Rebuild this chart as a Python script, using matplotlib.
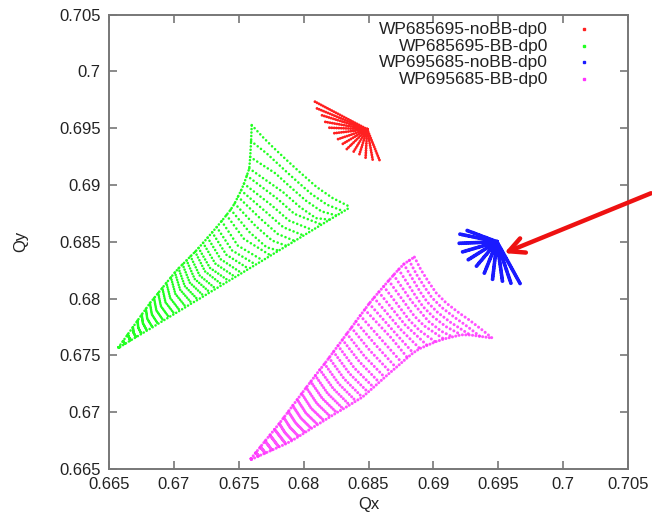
import matplotlib
matplotlib.use("Agg")
import matplotlib.pyplot as plt
import numpy as np

plt.rcParams['font.family'] = ['Liberation Sans', 'DejaVu Sans']

# ---- axis ticks -------------------------------------------------------
qx_ticks = [0.665, 0.67, 0.675, 0.68, 0.685, 0.69, 0.695, 0.7, 0.705]
qx_labels = ["0.665", "0.67", "0.675", "0.68", "0.685", "0.69", "0.695", "0.7", "0.705"]
qy_ticks = [0.665, 0.67, 0.675, 0.68, 0.685, 0.69, 0.695, 0.7, 0.705]
qy_labels = ["0.665", "0.67", "0.675", "0.68", "0.685", "0.69", "0.695", "0.7", "0.705"]

series_names = ["WP685695-noBB-dp0", "WP685695-BB-dp0",
                "WP695685-noBB-dp0", "WP695685-BB-dp0"]
series_colors = ["#ff2020", "#22ff22", "#1a1aff", "#ff33ff"]

# ---- WP685695 without beam-beam: spokes from the bare tune -------------
red_origin = (0.6849, 0.6949)
red_end_qx = [0.68077, 0.68102, 0.68136, 0.68162, 0.68195, 0.68225, 0.68259,
              0.68295, 0.68333, 0.68379, 0.68425, 0.68477, 0.68533, 0.68590]
red_end_qy = [0.69739, 0.69674, 0.69615, 0.69556, 0.69504, 0.69454, 0.69401,
              0.69357, 0.69316, 0.69281, 0.69252, 0.69231, 0.69217, 0.69204]

# ---- WP695685 without beam-beam ----------------------------------------
blue_origin = (0.6949, 0.6850)
blue_end_qx = [0.69251, 0.69200, 0.69187, 0.69213, 0.69264, 0.69328,
               0.69392, 0.69456, 0.69533, 0.69598, 0.69675]
blue_end_qy = [0.68603, 0.68568, 0.68486, 0.68407, 0.68339, 0.68280,
               0.68222, 0.68169, 0.68148, 0.68134, 0.68119]

# ---- WP685695 with beam-beam: constant-amplitude rings ------------------
green_ring_qx = [
    [0.66573, 0.66585],
    [0.66608, 0.66623],
    [0.66644, 0.66665],
    [0.66684, 0.66688, 0.66708],
    [0.66720, 0.66725, 0.66750],
    [0.66752, 0.66761, 0.66792],
    [0.66784, 0.66795, 0.66835],
    [0.66815, 0.66830, 0.66877],
    [0.66847, 0.66865, 0.66919],
    [0.66879, 0.66900, 0.66962],
    [0.66911, 0.66935, 0.67004],
    [0.66942, 0.66972, 0.67046],
    [0.66977, 0.67011, 0.67092],
    [0.67008, 0.67048, 0.67138],
    [0.67036, 0.67084, 0.67185],
    [0.67067, 0.67122, 0.67231],
    [0.67098, 0.67160, 0.67277],
    [0.67128, 0.67198, 0.67323],
    [0.67164, 0.67240, 0.67373],
    [0.67190, 0.67278, 0.67423],
    [0.67225, 0.67319, 0.67473],
    [0.67260, 0.67361, 0.67523],
    [0.67295, 0.67404, 0.67577],
    [0.67330, 0.67448, 0.67631],
    [0.67368, 0.67492, 0.67685],
    [0.67405, 0.67541, 0.67746],
    [0.67438, 0.67584, 0.67715, 0.67808],
    [0.67468, 0.67627, 0.67758, 0.67869],
    [0.67494, 0.67669, 0.67800, 0.67931],
    [0.67518, 0.67712, 0.67843, 0.68000],
    [0.67540, 0.67755, 0.67886, 0.68069],
    [0.67562, 0.67798, 0.67928, 0.68138],
    [0.67581, 0.67841, 0.67972, 0.68095, 0.68200],
    [0.67588, 0.67784, 0.67884, 0.68015, 0.68138, 0.68254],
    [0.67595, 0.67718, 0.67826, 0.67926, 0.68057, 0.68180, 0.68308],
    [0.67600, 0.67685, 0.67762, 0.67869, 0.67969, 0.68100, 0.68223, 0.68361],
]
green_ring_qy = [
    [0.67570, 0.67575],
    [0.67626, 0.67601],
    [0.67684, 0.67631],
    [0.67748, 0.67702, 0.67660],
    [0.67807, 0.67745, 0.67689],
    [0.67859, 0.67784, 0.67718],
    [0.67909, 0.67822, 0.67747],
    [0.67960, 0.67862, 0.67777],
    [0.68004, 0.67896, 0.67806],
    [0.68049, 0.67932, 0.67836],
    [0.68094, 0.67968, 0.67865],
    [0.68138, 0.68004, 0.67894],
    [0.68187, 0.68042, 0.67926],
    [0.68230, 0.68078, 0.67959],
    [0.68266, 0.68110, 0.67990],
    [0.68301, 0.68141, 0.68022],
    [0.68336, 0.68173, 0.68055],
    [0.68372, 0.68204, 0.68086],
    [0.68412, 0.68239, 0.68121],
    [0.68445, 0.68270, 0.68156],
    [0.68490, 0.68308, 0.68190],
    [0.68536, 0.68346, 0.68224],
    [0.68583, 0.68386, 0.68262],
    [0.68629, 0.68424, 0.68299],
    [0.68682, 0.68467, 0.68336],
    [0.68735, 0.68524, 0.68379],
    [0.68783, 0.68583, 0.68451, 0.68422],
    [0.68837, 0.68642, 0.68510, 0.68464],
    [0.68897, 0.68701, 0.68569, 0.68507],
    [0.68952, 0.68760, 0.68628, 0.68555],
    [0.69011, 0.68819, 0.68687, 0.68603],
    [0.69082, 0.68878, 0.68746, 0.68651],
    [0.69145, 0.68937, 0.68805, 0.68708, 0.68694],
    [0.69246, 0.69101, 0.68996, 0.68864, 0.68767, 0.68731],
    [0.69386, 0.69275, 0.69160, 0.69055, 0.68923, 0.68826, 0.68768],
    [0.69527, 0.69422, 0.69334, 0.69219, 0.69114, 0.68982, 0.68885, 0.68805],
]

# ---- WP695685 with beam-beam -------------------------------------------
magenta_ring_qx = [
    [0.67595, 0.67598],
    [0.67631, 0.67652],
    [0.67667, 0.67704],
    [0.67703, 0.67756],
    [0.67740, 0.67809],
    [0.67776, 0.67862],
    [0.67812, 0.67856, 0.67912],
    [0.67847, 0.67897, 0.67962],
    [0.67882, 0.67938, 0.68010],
    [0.67916, 0.67978, 0.68059],
    [0.67951, 0.68018, 0.68108],
    [0.67985, 0.68059, 0.68157],
    [0.68020, 0.68102, 0.68206],
    [0.68055, 0.68144, 0.68255],
    [0.68090, 0.68185, 0.68305],
    [0.68125, 0.68228, 0.68354],
    [0.68161, 0.68270, 0.68403],
    [0.68196, 0.68312, 0.68452],
    [0.68230, 0.68352, 0.68496],
    [0.68265, 0.68390, 0.68539],
    [0.68299, 0.68432, 0.68582],
    [0.68333, 0.68471, 0.68625],
    [0.68368, 0.68512, 0.68669],
    [0.68402, 0.68554, 0.68712],
    [0.68436, 0.68596, 0.68756],
    [0.68471, 0.68679, 0.68800],
    [0.68505, 0.68713, 0.68844],
    [0.68542, 0.68748, 0.68895],
    [0.68579, 0.68782, 0.68952],
    [0.68617, 0.68816, 0.68893, 0.69015],
    [0.68655, 0.68851, 0.68928, 0.69081],
    [0.68693, 0.68832, 0.68962, 0.69062, 0.69148],
    [0.68732, 0.68866, 0.68920, 0.68997, 0.69097, 0.69215],
    [0.68772, 0.68900, 0.68954, 0.69031, 0.69131, 0.69283],
    [0.68813, 0.68871, 0.68935, 0.68988, 0.69065, 0.69165, 0.69242, 0.69359],
    [0.68854, 0.68905, 0.68969, 0.69023, 0.69100, 0.69200, 0.69277, 0.69377, 0.69454],
]
magenta_ring_qy = [
    [0.66592, 0.66585],
    [0.66644, 0.66613],
    [0.66695, 0.66640],
    [0.66746, 0.66666],
    [0.66798, 0.66694],
    [0.66849, 0.66721],
    [0.66900, 0.66820, 0.66751],
    [0.66953, 0.66863, 0.66786],
    [0.67005, 0.66906, 0.66821],
    [0.67058, 0.66949, 0.66857],
    [0.67111, 0.66991, 0.66891],
    [0.67164, 0.67033, 0.66926],
    [0.67217, 0.67077, 0.66961],
    [0.67269, 0.67121, 0.66996],
    [0.67322, 0.67165, 0.67029],
    [0.67374, 0.67208, 0.67063],
    [0.67426, 0.67251, 0.67098],
    [0.67479, 0.67294, 0.67132],
    [0.67532, 0.67342, 0.67176],
    [0.67585, 0.67390, 0.67219],
    [0.67638, 0.67442, 0.67263],
    [0.67691, 0.67490, 0.67307],
    [0.67744, 0.67541, 0.67351],
    [0.67797, 0.67593, 0.67393],
    [0.67850, 0.67644, 0.67437],
    [0.67903, 0.67649, 0.67480],
    [0.67956, 0.67688, 0.67522],
    [0.68007, 0.67728, 0.67560],
    [0.68057, 0.67769, 0.67588],
    [0.68107, 0.67808, 0.67720, 0.67619],
    [0.68158, 0.67849, 0.67761, 0.67644],
    [0.68207, 0.67976, 0.67800, 0.67712, 0.67663],
    [0.68256, 0.68017, 0.67929, 0.67841, 0.67753, 0.67681],
    [0.68303, 0.68056, 0.67968, 0.67880, 0.67792, 0.67680],
    [0.68335, 0.68211, 0.68097, 0.68009, 0.67921, 0.67833, 0.67771, 0.67668],
    [0.68365, 0.68251, 0.68136, 0.68048, 0.67960, 0.67872, 0.67811, 0.67723, 0.67652],
]

# ---- figure ------------------------------------------------------------
DPI = 100
fig = plt.figure(figsize=(6.52, 5.15), dpi=DPI)
ax = fig.add_axes([0.1672, 0.0893, 0.7960, 0.8825])
ax.set_xlim(0.665, 0.705)
ax.set_ylim(0.665, 0.705)

dot = dict(dash_capstyle='round', solid_capstyle='round')


def screen_length_pt(qx, qy):
    """Length of a polyline on the canvas, in points."""
    xy = ax.transData.transform(np.column_stack([qx, qy]))
    return np.hypot(*np.diff(xy, axis=0).T).sum() * 72.0 / DPI


def draw_rings(qx_list, qy_list, color, lw, n_dots, max_step, edge_gap,
               alpha=1.0):
    # each ring carries a fixed number of particles, so short rings look solid
    for qx, qy in zip(qx_list, qy_list):
        step = min(screen_length_pt(qx, qy) / n_dots, max_step)
        gap = max(step / lw, 0.05)
        ax.plot(qx, qy, color=color, lw=lw, ls=(0, (0.01, gap)),
                alpha=alpha, **dot)
    # edge spokes through the first and last point of every ring
    edge = dict(color=color, lw=lw, ls=(0, (0.01, edge_gap)), alpha=alpha, **dot)
    ax.plot([r[0] for r in qx_list], [r[0] for r in qy_list], **edge)
    ax.plot([r[-1] for r in qx_list], [r[-1] for r in qy_list], **edge)


def draw_spokes(origin, end_qx, end_qy, color, lw, gap):
    for ex, ey in zip(end_qx, end_qy):
        ax.plot([origin[0], ex], [origin[1], ey], color=color, lw=lw,
                ls=(0, (0.01, gap)), **dot)


draw_spokes(red_origin, red_end_qx, red_end_qy, series_colors[0], 2.1, 0.8)
draw_rings(green_ring_qx, green_ring_qy, series_colors[1], 1.9, 14, 3.0, 1.3)
draw_spokes(blue_origin, blue_end_qx, blue_end_qy, series_colors[2], 2.8, 0.5)
draw_rings(magenta_ring_qx, magenta_ring_qy, series_colors[3], 2.2, 15, 3.0,
           1.1, 0.85)

ax.set_xticks(qx_ticks)
ax.set_xticklabels(qx_labels)
ax.set_yticks(qy_ticks)
ax.set_yticklabels(qy_labels)
ax.tick_params(direction='in', length=6, width=1.2, color='#777777',
               labelsize=12, labelcolor='#222222', top=True, right=True,
               pad=6)
for sp in ax.spines.values():
    sp.set_color('#777777')
    sp.set_linewidth(1.4)

ax.set_xlabel("Qx", fontsize=12, color='#222222', labelpad=3)
ax.set_ylabel("Qy", fontsize=12, color='#222222', labelpad=22)

# key: right-justified labels with a sample point to their right
key_y = [0.968, 0.9307, 0.8955, 0.858]
for name, color, ky in zip(series_names, series_colors, key_y):
    ax.text(0.846, ky, name, transform=ax.transAxes, ha='right', va='center',
            fontsize=12.5, color='#222222')
    ax.plot([0.9152], [ky], transform=ax.transAxes, marker='s', ms=2.0,
            color=color, mec=color, ls='none', clip_on=False)

# red pointer onto the WP695685 footprint
ax.annotate("", xy=(0.69546, 0.68400), xytext=(0.70677, 0.68927),
            xycoords='data', textcoords='data', annotation_clip=False,
            arrowprops=dict(arrowstyle='->,head_length=1.1,head_width=0.55',
                            color='#ee1111', lw=3.2, shrinkA=0, shrinkB=0))

fig.savefig("out.png", dpi=DPI)
